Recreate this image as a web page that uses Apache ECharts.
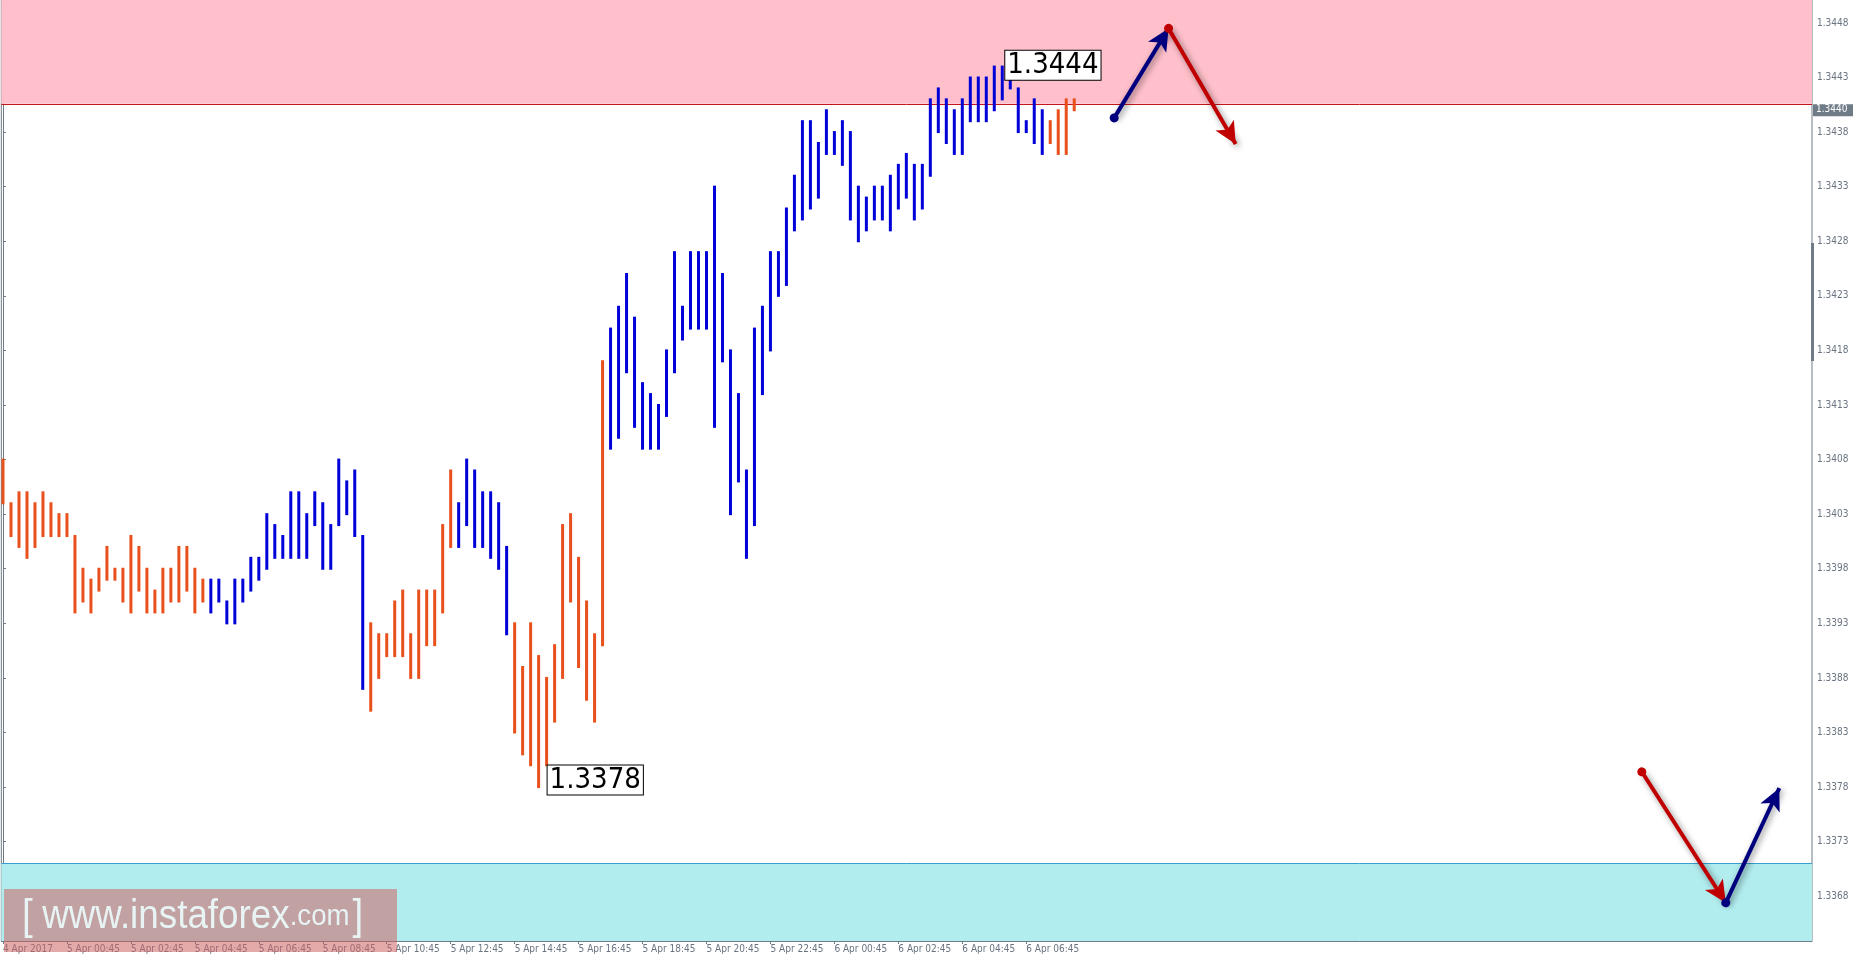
<!DOCTYPE html>
<html>
<head>
<meta charset="utf-8">
<script src="https://cdn.jsdelivr.net/npm/echarts@6/dist/echarts.min.js"></script>
<style>
html, body { margin: 0; padding: 0; background: #fff; }
#chart { width: 1854px; height: 959px; }
</style>
</head>
<body>
<div id="chart"></div>
<script>
var chart = echarts.init(document.getElementById('chart'));

// bar highs / lows in pips (1.3xxxx * 10000)
var highs = [13408,13404,13405,13405,13404,13405,13404,13403,13403,13401,
    13398,13397,13398,13400,13398,13398,13401,13400,13398,13396,
    13398,13398,13400,13400,13398,13397,13397,13397,13395,13397,
    13397,13399,13399,13403,13402,13401,13405,13405,13403,13405,
    13404,13402,13408,13406,13407,13401,13393,13392,13392,13395,
    13396,13392,13396,13396,13396,13402,13407,13404,13408,13407,
    13405,13405,13404,13400,13393,13389,13393,13390,13388,13391,
    13402,13403,13399,13395,13392,13417,13420,13422,13425,13421,
    13415,13414,13413,13418,13427,13422,13427,13427,13427,13433,
    13425,13418,13414,13407,13420,13422,13427,13427,13431,13434,
    13439,13439,13437,13440,13438,13439,13438,13433,13432,13433,
    13433,13434,13435,13436,13435,13435,13441,13442,13441,13440,
    13441,13443,13443,13443,13444,13444,13443,13442,13439,13441,
    13440,13439,13440,13441,13441];
var lows = [13404,13401,13400,13399,13400,13401,13401,13401,13401,13394,
    13395,13394,13396,13397,13397,13395,13394,13396,13394,13394,
    13394,13395,13395,13396,13394,13395,13394,13395,13393,13393,
    13395,13396,13397,13398,13399,13399,13399,13399,13399,13402,
    13398,13398,13402,13403,13401,13387,13385,13388,13390,13390,
    13390,13388,13388,13391,13391,13394,13400,13400,13402,13400,
    13400,13399,13398,13392,13383,13381,13380,13378,13380,13384,
    13388,13395,13389,13386,13384,13391,13409,13410,13416,13411,
    13409,13409,13409,13412,13416,13419,13420,13420,13420,13411,
    13417,13403,13406,13399,13402,13414,13418,13423,13424,13429,
    13430,13431,13432,13436,13436,13435,13430,13428,13429,13430,
    13430,13429,13431,13432,13430,13431,13434,13438,13437,13436,
    13436,13439,13439,13439,13440,13441,13442,13438,13438,13437,
    13436,13437,13436,13436,13440];
// wave colouring: [first bar, last bar, colour]
var segments = [[0, 25, '#e8501c'], [26, 45, '#0000d8'], [46, 56, '#e8501c'],
    [57, 63, '#0000d8'], [64, 75, '#e8501c'], [76, 130, '#0000d8'], [131, 134, '#e8501c']];
var timeTicks = [0, 8, 16, 24, 32, 40, 48, 56, 64, 72, 80, 88, 96, 104, 112, 120, 128];
var timeLabels = ['4 Apr 2017', '5 Apr 00:45', '5 Apr 02:45', '5 Apr 04:45', '5 Apr 06:45',
    '5 Apr 08:45', '5 Apr 10:45', '5 Apr 12:45', '5 Apr 14:45', '5 Apr 16:45', '5 Apr 18:45',
    '5 Apr 20:45', '5 Apr 22:45', '6 Apr 00:45', '6 Apr 02:45', '6 Apr 04:45', '6 Apr 06:45'];
var priceTicks = [1.3368, 1.3373, 1.3378, 1.3383, 1.3388, 1.3393, 1.3398, 1.3403, 1.3408,
    1.3413, 1.3418, 1.3423, 1.3428, 1.3433, 1.3438, 1.3443, 1.3448];
var resistance = 1.34406, support = 1.3371;
var lastPrice = 1.3440;
// forecast arrows [bar, price]
var upArrow1 = [[139, 1.34393], [145.8, 1.34475]];
var downArrow1 = [[145.8, 1.34475], [154.2, 1.34369]];
var downArrow2 = [[205, 1.33794], [215.5, 1.33674]];
var upArrow2 = [[215.5, 1.33674], [222.2, 1.33779]];

var yMin = 1.33639, yMax = 1.34501;

function colorOf(i) {
    for (var s = 0; s < segments.length; s++) {
        if (i >= segments[s][0] && i <= segments[s][1]) return segments[s][2];
    }
    return '#0000d8';
}

var barData = [];
for (var i = 0; i < highs.length; i++) {
    barData.push([i, lows[i] / 10000, highs[i] / 10000]);
}

function arrow(pts, c) {
    return [
        { coord: pts[0], symbol: 'circle', symbolSize: 9, lineStyle: { color: c }, itemStyle: { color: c } },
        { coord: pts[1], symbol: 'arrow', symbolSize: [16, 22], lineStyle: { color: c }, itemStyle: { color: c } }
    ];
}

var boxLabel = {
    show: true,
    color: '#000',
    fontSize: 29,
    fontFamily: 'DejaVu Sans Condensed, Liberation Sans, sans-serif',
    backgroundColor: '#fff',
    borderColor: '#000',
    borderWidth: 1,
    padding: [1, 2, -1, 2]
};

var option = {
    animation: false,
    backgroundColor: '#fff',
    grid: { left: 1, right: 42, top: 0, bottom: 18, show: true, borderColor: '#6f7b86', borderWidth: 1 },
    xAxis: {
        type: 'value', min: -0.21, max: 226.29,
        splitLine: { show: false },
        axisLine: { lineStyle: { color: '#6f7b86' } },
        axisTick: { customValues: timeTicks, length: 3, lineStyle: { color: '#6f7b86' } },
        axisLabel: {
            customValues: timeTicks, color: '#6a7480', fontSize: 10, fontFamily: 'DejaVu Sans Condensed, sans-serif',
            align: 'left', margin: 3,
            formatter: function (v) { return timeLabels[timeTicks.indexOf(Math.round(v))]; }
        }
    },
    yAxis: {
        type: 'value', position: 'right', min: yMin, max: yMax,
        splitLine: { show: false },
        axisLine: { show: true, lineStyle: { color: '#6f7b86' } },
        axisTick: { customValues: priceTicks, length: 3, lineStyle: { color: '#6f7b86' } },
        axisLabel: {
            customValues: priceTicks, color: '#6a7480', fontSize: 10, fontFamily: 'DejaVu Sans Condensed, sans-serif',
            margin: 5, formatter: function (v) { return v.toFixed(4); }
        }
    },
    series: [{
        // zones
        type: 'line', data: [], z: 1,
        markArea: {
            silent: true,
            data: [
                [{ yAxis: resistance, itemStyle: { color: '#ffc0cb' } }, { yAxis: yMax }],
                [{ yAxis: yMin, itemStyle: { color: '#b1ecee' } }, { yAxis: support }]
            ]
        }
    }, {
        // zone edges
        type: 'custom', z: 2, silent: true,
        data: [[resistance, 0], [support, 1]],
        encode: { y: 0 },
        renderItem: function (params, api) {
            var p = api.coord([0, api.value(0)]);
            var cs = params.coordSys;
            return {
                type: 'line',
                shape: { x1: cs.x, y1: Math.round(p[1]) + 0.5, x2: cs.x + cs.width, y2: Math.round(p[1]) + 0.5 },
                style: { stroke: api.value(1) === 0 ? '#c4161c' : '#3a9fd0', lineWidth: 1 }
            };
        }
    }, {
        type: 'custom',
        data: barData,
        encode: { x: 0, y: [1, 2] },
        renderItem: function (params, api) {
            var lo = api.coord([api.value(0), api.value(1)]);
            var hi = api.coord([api.value(0), api.value(2)]);
            return {
                type: 'line',
                shape: { x1: lo[0], y1: lo[1] + 1, x2: hi[0], y2: hi[1] - 1 },
                style: { stroke: colorOf(params.dataIndex), lineWidth: 3 }
            };
        },
        z: 5,
        markPoint: {
            symbol: 'rect', symbolSize: 0,
            data: [
                { coord: [125, 1.34444], label: Object.assign({}, boxLabel, { position: 'right', offset: [-2, 3], formatter: '1.3444' }) },
                { coord: [67, 1.3378], label: Object.assign({}, boxLabel, { position: 'right', offset: [4, -7], formatter: '1.3378' }) }
            ]
        }
    }, {
        type: 'line', data: [], z: 10,
        markLine: {
            silent: true, label: { show: false },
            lineStyle: { width: 4, type: 'solid', shadowBlur: 6, shadowColor: 'rgba(0,0,0,0.45)', shadowOffsetX: 2, shadowOffsetY: 2 },
            data: [
                arrow(upArrow1, '#00007f'), arrow(downArrow1, '#c00000'),
                arrow(downArrow2, '#c00000'), arrow(upArrow2, '#00007f')
            ]
        }
    }]
};
chart.setOption(option);

var py = chart.convertToPixel({ yAxisIndex: 0 }, lastPrice);
chart.setOption({
    graphic: [
        { type: 'polygon', shape: { points: [[5, 8], [13, 8], [9, 13]] }, style: { fill: '#6a7480' } },
        { type: 'text', left: 18, top: 3, style: { text: 'USDCAD,M15  1.3441 1.3441 1.3440 1.3440', fill: '#6a7480', fontSize: 10, fontFamily: 'DejaVu Sans Condensed, sans-serif' } },
        { type: 'rect', shape: { x: 1813, y: py - 6, width: 40, height: 12 }, style: { fill: '#6f7b86' } },
        { type: 'text', x: 1816, y: py - 6, style: { text: '1.3440', fill: '#fff', fontSize: 10, fontFamily: 'DejaVu Sans Condensed, sans-serif' } },
        { type: 'rect', shape: { x: 1811, y: 243, width: 3, height: 118 }, style: { fill: '#6f7b86' } },
        { type: 'rect', shape: { x: 4, y: 889, width: 393, height: 63 }, style: { fill: 'rgba(205,100,100,0.55)' }, z: 20 },
        {
            type: 'text', x: 22, y: 896, scaleX: 0.92, z: 21,
            style: {
                text: '{b|[}   {w|www.instaforex}{c|.com} {b|]}', fill: '#e8f3f4',
                fontFamily: 'DejaVu Sans Condensed, sans-serif',
                rich: {
                    b: { fontSize: 42, fill: '#e8f3f4' },
                    w: { fontSize: 40, fill: '#e8f3f4' },
                    c: { fontSize: 30, fill: '#e8f3f4' }
                }
            }
        }
    ]
});
</script>
</body>
</html>
